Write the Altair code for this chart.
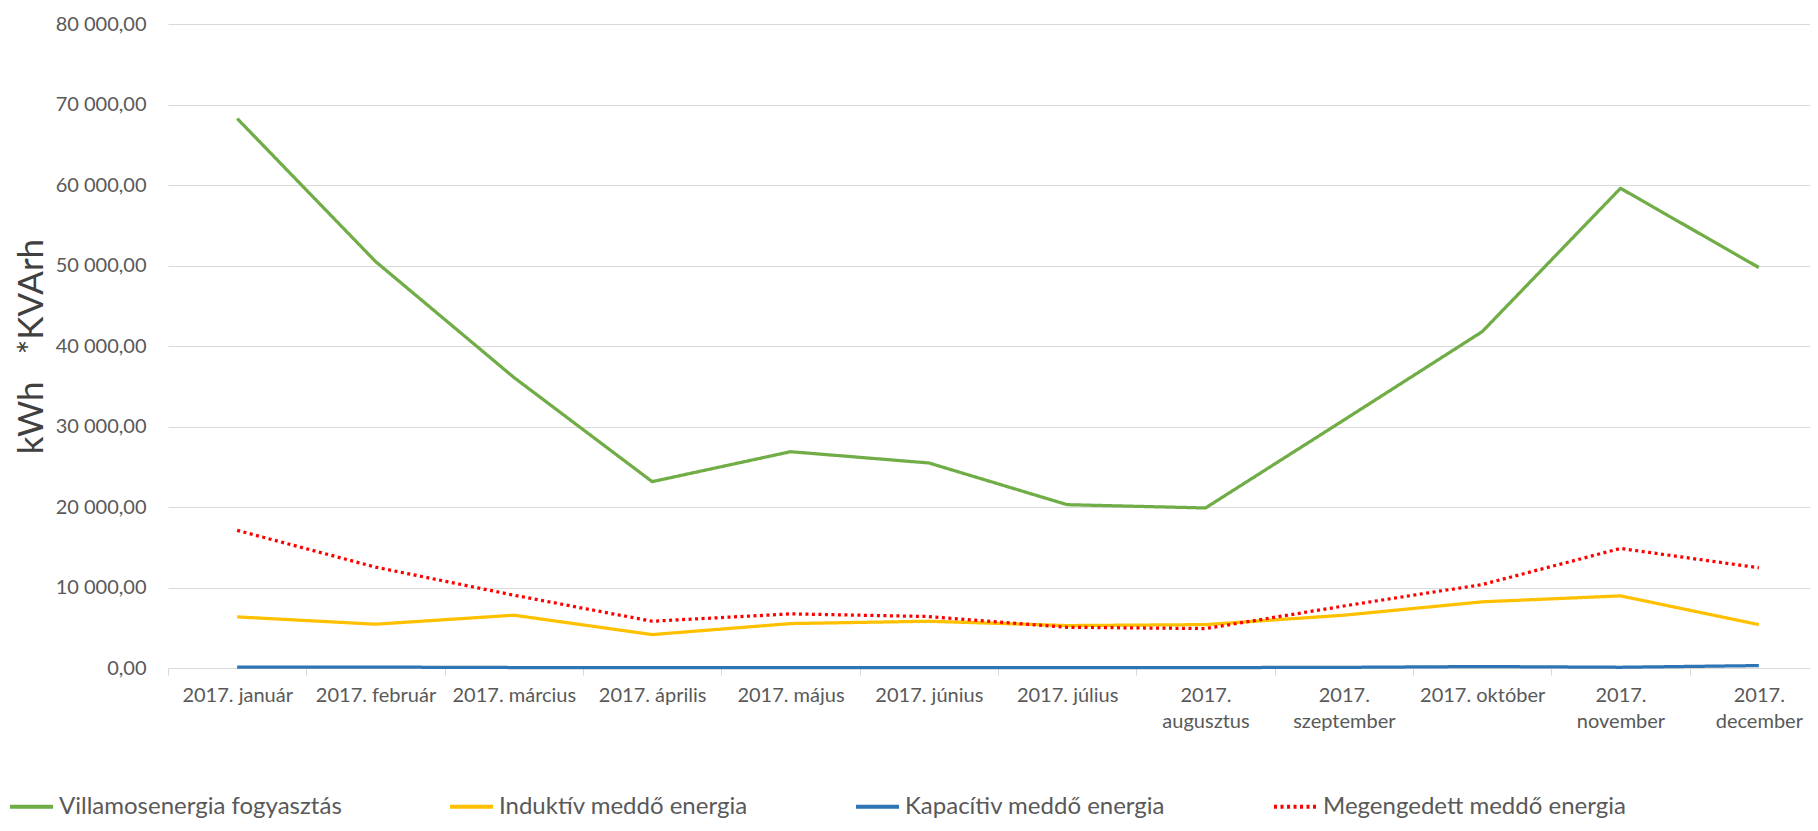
import altair as alt
import pandas as pd

months = ["2017. január", "2017. február", "2017. március", "2017. április",
          "2017. május", "2017. június", "2017. július", "2017. augusztus",
          "2017. szeptember", "2017. október", "2017. november", "2017. december"]
wrapped = ["2017. augusztus", "2017. szeptember", "2017. november", "2017. december"]

series = ["Villamosenergia fogyasztás", "Induktív meddő energia",
          "Kapacítiv meddő energia", "Megengedett meddő energia"]
villamos = [68260, 50500, 36100, 23150, 26870, 25470, 20290, 19880, 30800, 41780, 59590, 49750]
induktiv = [6350, 5440, 6560, 4150, 5520, 5810, 5270, 5390, 6560, 8220, 8960, 5390]
kapacitiv = [120, 110, 60, 50, 60, 40, 40, 50, 80, 180, 90, 300]
megengedett = [17100, 12530, 9045, 5810, 6720, 6390, 5060, 4900, 7700, 10370, 14850, 12450]

colors = ["#70AD47", "#FFC000", "#2E75B6", "#FF0000"]
dashes = [[1, 0], [1, 0], [1, 0], [3, 3.5]]
y_ticks = [0, 10000, 20000, 30000, 40000, 50000, 60000, 70000, 80000]

rows = []
for name, vals in zip(series, [villamos, induktiv, kapacitiv, megengedett]):
    for m, v in zip(months, vals):
        rows.append({"month": m, "series": name, "value": v})
df = pd.DataFrame(rows)

wrapped_js = "[" + ",".join("'" + w + "'" for w in wrapped) + "]"
x_label_expr = f"indexof({wrapped_js}, datum.label) >= 0 ? split(datum.label, ' ') : datum.label"
y_label_expr = "replace(replace(format(datum.value, ',.2f'), regexp(',', 'g'), ' '), '.', ',')"

FONT = "Lato"
PLOT_W = 1642     # visible plot width (the original is cut at the right edge)
BAND_RANGE = 1660  # full width of the 12 month bands
PLOT_H = 644

legend_kw = dict(title=None, orient="none", legendX=-160, legendY=759,
                 direction="horizontal", labelFont=FONT,
                 labelFontSize=24, labelColor="#595959",
                 labelLimit=500, symbolType="stroke",
                 symbolSize=1849, symbolStrokeWidth=4,
                 columnPadding=100, labelOffset=4)

chart = alt.Chart(df).mark_line(strokeWidth=3.25, strokeJoin="round").encode(
    x=alt.X("month:N", sort=months,
            scale=alt.Scale(type="band", paddingInner=0, paddingOuter=0,
                            range=[0, BAND_RANGE]),
            axis=alt.Axis(title=None, tickBand="extent", domainColor="#D9D9D9",
                          tickColor="#D9D9D9", tickSize=7, labelAngle=0,
                          labelFont=FONT, labelFontSize=20, labelColor="#595959",
                          labelPadding=10, labelExpr=x_label_expr,
                          labelLineHeight=26, grid=False, labelBaseline="top")),
    y=alt.Y("value:Q",
            scale=alt.Scale(domain=[0, 80000], nice=False),
            axis=alt.Axis(values=y_ticks, grid=True, gridColor="#D9D9D9",
                          domain=False, ticks=False, labelPadding=22,
                          labelFont=FONT, labelFontSize=20, labelColor="#595959",
                          labelExpr=y_label_expr,
                          title="kWh\u00a0\u00a0\u00a0*KVArh", titleFont=FONT, titleFontSize=35,
                          titleFontWeight="normal", titleColor="#404040",
                          titleX=-137, titleY=PLOT_H / 2, titleAlign="center",
                          titleBaseline="middle", titleAngle=-90)),
    color=alt.Color("series:N", sort=series,
                    scale=alt.Scale(domain=series, range=colors),
                    legend=alt.Legend(**legend_kw)),
    strokeDash=alt.StrokeDash("series:N", sort=series,
                              scale=alt.Scale(domain=series, range=dashes),
                              legend=alt.Legend(**legend_kw)),
).properties(
    width=PLOT_W, height=PLOT_H,
    autosize=alt.AutoSizeParams(type="none"),
    padding={"left": 160, "top": 16, "right": 0, "bottom": 155},
).configure_view(stroke=None)

chart.save("out.html", embed_options={"renderer": "svg", "actions": False})
